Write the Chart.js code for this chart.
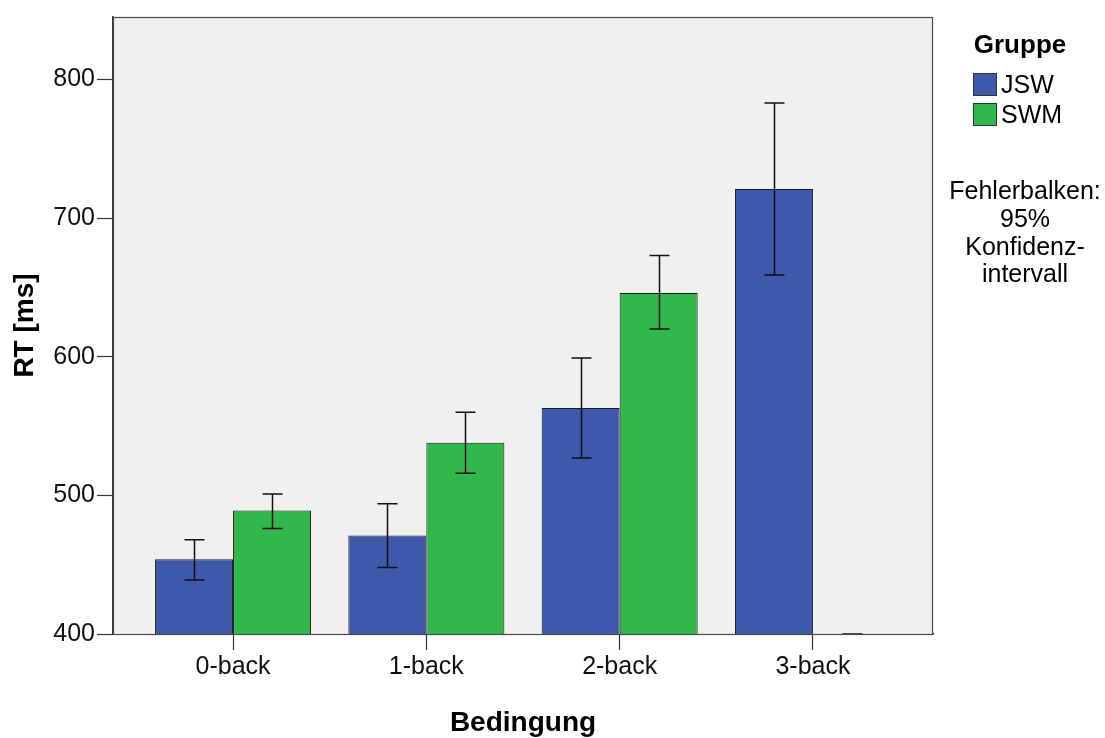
<!DOCTYPE html>
<html>
<head>
<meta charset="utf-8">
<script src="https://cdn.jsdelivr.net/npm/chart.js@4/dist/chart.umd.min.js"></script>
<style>
  html, body { margin: 0; padding: 0; background: #ffffff; }
  #wrap { position: relative; width: 1105px; height: 738px; }
</style>
</head>
<body>
<div id="wrap"><canvas id="chart"></canvas></div>
<script>
// Reaction times per n-back condition and group (means with 95% CI bounds)
const categories = ['0-back', '1-back', '2-back', '3-back'];
const jswMean = [454, 471, 563, 721];
const jswLow  = [439, 448, 527, 659];
const jswHigh = [468, 494, 599, 783];
const swmMean = [489, 538, 646, 400];
const swmLow  = [476, 516, 620, 400];
const swmHigh = [501, 560, 673, 400];
const yTicks = [400, 500, 600, 700, 800];

const groupLabels = ['JSW', 'SWM'];
const groupColors = ['#3e58ab', '#31b84a'];
const noteLines = ['Fehlerbalken:', '95%', 'Konfidenz-', 'intervall'];

const toPoints = arr => arr.map((v, i) => ({ x: i, y: v }));

// Plot background and frame
const framePlugin = {
  id: 'frame',
  beforeDatasetsDraw(chart) {
    const { ctx, chartArea: a } = chart;
    ctx.save();
    ctx.fillStyle = '#f0f0f0';
    ctx.fillRect(a.left, a.top, a.right - a.left, a.bottom - a.top);
    ctx.restore();
  },
  afterDraw(chart) {
    const { ctx, chartArea: a } = chart;
    ctx.save();
    ctx.strokeStyle = '#4a4a4a';
    ctx.lineWidth = 1.2;
    ctx.strokeRect(a.left + 0.5, a.top + 0.5, a.right - a.left - 1, a.bottom - a.top);
    ctx.restore();
  }
};

// Confidence interval whiskers
const errorBarPlugin = {
  id: 'errorBars',
  afterDatasetsDraw(chart) {
    const { ctx } = chart;
    const y = chart.scales.y;
    const bounds = [[jswLow, jswHigh], [swmLow, swmHigh]];
    ctx.save();
    ctx.strokeStyle = '#111111';
    ctx.lineWidth = 1.5;
    chart.data.datasets.forEach((ds, di) => {
      const meta = chart.getDatasetMeta(di);
      meta.data.forEach((bar, i) => {
        const lo = y.getPixelForValue(bounds[di][0][i]);
        const hi = y.getPixelForValue(bounds[di][1][i]);
        const cx = Math.round(bar.x) + 0.5;
        const half = 10;
        ctx.beginPath();
        ctx.moveTo(cx, hi); ctx.lineTo(cx, lo);
        ctx.moveTo(cx - half, hi); ctx.lineTo(cx + half, hi);
        ctx.moveTo(cx - half, lo); ctx.lineTo(cx + half, lo);
        ctx.stroke();
      });
    });
    ctx.restore();
  }
};

// Group legend and error bar note on the right
const sideLegendPlugin = {
  id: 'sideLegend',
  afterDraw(chart) {
    const { ctx } = chart;
    ctx.save();
    ctx.fillStyle = '#000000';
    ctx.textAlign = 'center';
    ctx.textBaseline = 'alphabetic';
    ctx.font = 'bold 26px "Liberation Sans"';
    ctx.fillText('Gruppe', 1020, 53);

    ctx.textAlign = 'left';
    ctx.font = '25px "Liberation Sans"';
    chart.data.datasets.forEach((ds, i) => {
      const top = 73 + i * 30;
      ctx.fillStyle = ds.backgroundColor;
      ctx.fillRect(973.5, top + 0.5, 23, 22);
      ctx.strokeStyle = '#333333';
      ctx.lineWidth = 1;
      ctx.strokeRect(973.5, top + 0.5, 23, 22);
      ctx.fillStyle = '#000000';
      ctx.fillText(ds.label, 1001, top + 20);
    });

    ctx.textAlign = 'center';
    ctx.font = '25px "Liberation Sans"';
    const baselines = [199, 227, 255, 282];
    noteLines.forEach((t, i) => ctx.fillText(t, 1025, baselines[i]));
    ctx.restore();
  }
};

new Chart(document.getElementById('chart'), {
  type: 'bar',
  data: {
    datasets: [
      {
        label: groupLabels[0],
        data: toPoints(jswMean),
        backgroundColor: groupColors[0],
        borderColor: '#1a1a1a',
        borderWidth: 1
      },
      {
        label: groupLabels[1],
        data: toPoints(swmMean),
        backgroundColor: groupColors[1],
        borderColor: '#1a1a1a',
        borderWidth: 1
      }
    ]
  },
  plugins: [framePlugin, errorBarPlugin, sideLegendPlugin],
  options: {
    responsive: true,
    maintainAspectRatio: false,
    animation: false,
    layout: { padding: { top: 17, right: 172, bottom: 0, left: 0 } },
    categoryPercentage: 0.807,
    barPercentage: 1.0,
    plugins: {
      legend: { display: false },
      tooltip: { enabled: false }
    },
    scales: {
      x: {
        type: 'linear',
        min: -0.621,
        max: 3.621,
        offset: false,
        afterFit(scale) { scale.height = 104; },
        afterBuildTicks(scale) {
          scale.ticks = categories.map((c, i) => ({ value: i }));
        },
        ticks: {
          callback: v => categories[v] ?? '',
          color: '#111111',
          font: { family: 'Liberation Sans', size: 25 },
          padding: 2,
          maxRotation: 0,
          autoSkip: false
        },
        grid: { offset: false, drawOnChartArea: false, tickLength: 16, color: '#333333', tickWidth: 1.2 },
        border: { color: '#333333', width: 1.5 },
        title: {
          display: true,
          text: 'Bedingung',
          color: '#000000',
          font: { family: 'Liberation Sans', size: 28, weight: 'bold' },
          padding: { top: 0, bottom: -2 }
        }
      },
      y: {
        min: 400,
        max: 845,
        afterFit(scale) { scale.width = 113; },
        afterBuildTicks(scale) {
          scale.ticks = yTicks.map(v => ({ value: v }));
        },
        ticks: {
          color: '#111111',
          font: { family: 'Liberation Sans', size: 25 },
          padding: 2
        },
        grid: { drawOnChartArea: false, tickLength: 16, color: '#333333', tickWidth: 1.2 },
        border: { color: '#333333', width: 1.5 },
        title: {
          display: true,
          text: 'RT [ms]',
          color: '#000000',
          font: { family: 'Liberation Sans', size: 28, weight: 'bold' },
          padding: { top: 8, bottom: 0 }
        }
      }
    }
  }
});
</script>
</body>
</html>
